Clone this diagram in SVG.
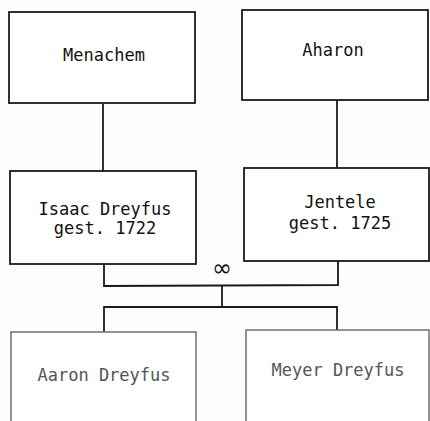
<svg xmlns="http://www.w3.org/2000/svg" width="430" height="421" viewBox="0 0 430 421">
<style>
.box{fill:#fff;stroke:#1a1a1a;stroke-width:1.8}
.lbox{fill:#fff;stroke:#666;stroke-width:1.4}
.t{font-family:"DejaVu Sans Mono","Liberation Mono",monospace;font-size:17px;fill:#111;text-anchor:middle}
.lt{font-family:"DejaVu Sans Mono","Liberation Mono",monospace;font-size:17px;fill:#555;text-anchor:middle}
.c{fill:none;stroke:#1a1a1a;stroke-width:1.8}
.inf{font-family:"DejaVu Sans",sans-serif;font-size:24px;fill:#111;text-anchor:middle}
</style>
<rect width="430" height="421" fill="#fdfdfd"/>
<g id="connectors">
<line class="c" x1="103" y1="104" x2="103" y2="171"/>
<line class="c" x1="337" y1="100" x2="337" y2="168"/>
<polyline class="c" points="104,264 104,286 338,285 338,261"/>
<line class="c" x1="222" y1="285" x2="222" y2="307"/>
<polyline class="c" points="104,332 104,307 337,307 337,330"/>
<text x="222" y="276" class="inf">∞</text>
</g>
<g id="menachem">
<rect class="box" x="9" y="12" width="186" height="91"/>
<text class="t" x="104" y="61">Menachem</text>
</g>
<g id="aharon">
<rect class="box" x="242" y="10" width="186" height="90"/>
<text class="t" x="333" y="56">Aharon</text>
</g>
<g id="isaac">
<rect class="box" x="10" y="171" width="186" height="93"/>
<text class="t" x="105" y="215">Isaac Dreyfus</text>
<text class="t" x="105" y="234">gest. 1722</text>
</g>
<g id="jentele">
<rect class="box" x="244" y="168" width="185" height="93"/>
<text class="t" x="340" y="208">Jentele</text>
<text class="t" x="340" y="229">gest. 1725</text>
</g>
<g id="aaron">
<rect class="lbox" x="11" y="332" width="185" height="100"/>
<text class="lt" x="104" y="381">Aaron Dreyfus</text>
</g>
<g id="meyer">
<rect class="lbox" x="246" y="330" width="183" height="100"/>
<text class="lt" x="338" y="376">Meyer Dreyfus</text>
</g>
</svg>
